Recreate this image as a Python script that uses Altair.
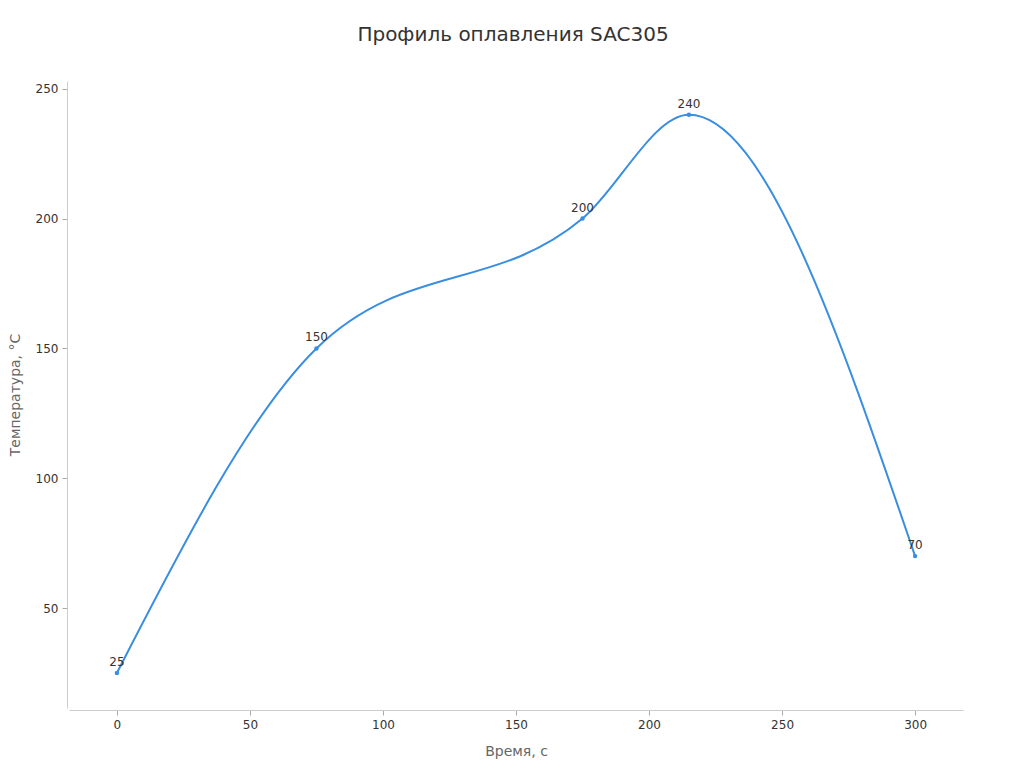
import altair as alt
import pandas as pd

times = [0, 75, 175, 215, 300]
temps = [25, 150, 200, 240, 70]
x_ticks = [0, 50, 100, 150, 200, 250, 300]
y_ticks = [50, 100, 150, 200, 250]

df = pd.DataFrame({"t": times, "T": temps})

FONT = "DejaVu Sans"
BLUE = "#3a8ee0"

x = alt.X("t:Q", title="Время, с",
          scale=alt.Scale(domain=[-18, 318], nice=False, zero=False),
          axis=alt.Axis(values=x_ticks, grid=False, offset=2, titlePadding=14))
y = alt.Y("T:Q", title="Температура, °C",
          scale=alt.Scale(domain=[11.5, 253], nice=False, zero=False),
          axis=alt.Axis(values=y_ticks, grid=False, offset=2, titlePadding=13))

base = alt.Chart(df).encode(x=x, y=y)

line = base.mark_line(interpolate="monotone", color=BLUE, strokeWidth=2)
pts = base.mark_circle(color=BLUE, size=20, opacity=1)
labels = base.mark_text(dy=-11, fontSize=12, font=FONT, color="#333333").encode(text="T:Q")

chart = (line + pts + labels).properties(
    width=894, height=627,
    autosize=alt.AutoSizeParams(type="none"),
    padding={"left": 61, "top": 73, "right": 53, "bottom": 52},
    title=alt.TitleParams("Профиль оплавления SAC305", fontSize=20, font=FONT,
                          fontWeight="normal", color="#333333", offset=36, dx=-3),
).configure_view(stroke=None).configure_axis(
    domainColor="#cccccc", tickColor="#aaaaaa", labelColor="#333333",
    titleColor="#666666", labelFont=FONT, titleFont=FONT,
    labelFontSize=12, titleFontSize=14, titleFontWeight="normal",
    tickSize=5, labelPadding=4,
)

chart.save("out.html", embed_options={"renderer": "svg", "actions": False})
